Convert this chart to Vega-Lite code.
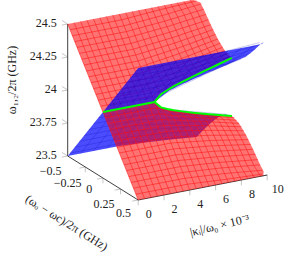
{"$schema":"https://vega.github.io/schema/vega-lite/v6.json","width":289,"height":263,"padding":0,"autosize":"none","background":"white","config":{"view":{"stroke":null}},
"data":{"values":[
{"s":"F1","i":0,"k":0,"d":0,"w":24},{"s":"F1","i":1,"k":0,"d":-0.5,"w":24.5},{"s":"F1","i":2,"k":9.7,"d":-0.5,"w":24.5},{"s":"F1","i":3,"k":10,"d":-0.45,"w":24.49},{"s":"F1","i":4,"k":10,"d":-0.4,"w":24.456},{"s":"F1","i":5,"k":10,"d":-0.3,"w":24.372},{"s":"F1","i":6,"k":10,"d":-0.2,"w":24.297},{"s":"F1","i":7,"k":10,"d":-0.1,"w":24.242},{"s":"F1","i":8,"k":10,"d":0,"w":24.22},{"s":"F1","i":9,"k":9,"d":0,"w":24.193},{"s":"F1","i":10,"k":8,"d":0,"w":24.166},{"s":"F1","i":11,"k":7,"d":0,"w":24.138},{"s":"F1","i":12,"k":6,"d":0,"w":24.107},{"s":"F1","i":13,"k":5.5,"d":0,"w":24.091},{"s":"F1","i":14,"k":5,"d":0,"w":24.072},{"s":"F1","i":15,"k":4.5,"d":0,"w":24.05},{"s":"F1","i":16,"k":4,"d":0,"w":24},
{"s":"F2","i":0,"k":0,"d":0,"w":24},{"s":"F2","i":1,"k":4,"d":0,"w":24},{"s":"F2","i":2,"k":4.5,"d":0,"w":23.95},{"s":"F2","i":3,"k":5,"d":0,"w":23.928},{"s":"F2","i":4,"k":6,"d":0,"w":23.893},{"s":"F2","i":5,"k":7,"d":0,"w":23.862},{"s":"F2","i":6,"k":8,"d":0,"w":23.834},{"s":"F2","i":7,"k":9,"d":0,"w":23.807},{"s":"F2","i":8,"k":10,"d":0,"w":23.78},{"s":"F2","i":9,"k":10,"d":-0.1,"w":23.758},{"s":"F2","i":10,"k":10,"d":-0.2,"w":23.703},{"s":"F2","i":11,"k":10,"d":-0.3,"w":23.628},{"s":"F2","i":12,"k":10,"d":-0.4,"w":23.544},{"s":"F2","i":13,"k":10,"d":-0.5,"w":23.454},{"s":"F2","i":14,"k":8,"d":-0.5,"w":23.473},{"s":"F2","i":15,"k":6,"d":-0.5,"w":23.489},{"s":"F2","i":16,"k":4,"d":-0.5,"w":23.5},{"s":"F2","i":17,"k":0,"d":-0.5,"w":23.5},
{"s":"F3","i":0,"k":0,"d":0,"w":24},{"s":"F3","i":1,"k":4,"d":0,"w":24},{"s":"F3","i":2,"k":4.5,"d":0,"w":23.95},{"s":"F3","i":3,"k":5,"d":0,"w":23.928},{"s":"F3","i":4,"k":6,"d":0,"w":23.893},{"s":"F3","i":5,"k":7,"d":0,"w":23.862},{"s":"F3","i":6,"k":8,"d":0,"w":23.834},{"s":"F3","i":7,"k":9,"d":0,"w":23.807},{"s":"F3","i":8,"k":10,"d":0,"w":23.78},{"s":"F3","i":9,"k":10,"d":0.1,"w":23.758},{"s":"F3","i":10,"k":10,"d":0.2,"w":23.703},{"s":"F3","i":11,"k":10,"d":0.3,"w":23.628},{"s":"F3","i":12,"k":10,"d":0.4,"w":23.544},{"s":"F3","i":13,"k":10,"d":0.45,"w":23.51},{"s":"F3","i":14,"k":9.7,"d":0.5,"w":23.5},{"s":"F3","i":15,"k":0,"d":0.5,"w":23.5},
{"s":"F4","i":0,"k":0,"d":0,"w":24},{"s":"F4","i":1,"k":4,"d":0,"w":24},{"s":"F4","i":2,"k":5,"d":0.03,"w":24.078},{"s":"F4","i":3,"k":6,"d":0.05,"w":24.118},{"s":"F4","i":4,"k":7,"d":0.06,"w":24.15},{"s":"F4","i":5,"k":8,"d":0.07,"w":24.18},{"s":"F4","i":6,"k":9,"d":0.085,"w":24.211},{"s":"F4","i":7,"k":10,"d":0.1,"w":24.242},{"s":"F4","i":8,"k":10,"d":0.2,"w":24.297},{"s":"F4","i":9,"k":10,"d":0.3,"w":24.372},{"s":"F4","i":10,"k":10,"d":0.4,"w":24.456},{"s":"F4","i":11,"k":10,"d":0.45,"w":24.49},{"s":"F4","i":12,"k":9.6,"d":0.5,"w":24.5},{"s":"F4","i":13,"k":0,"d":0.5,"w":24.5},
{"s":"x","l":1,"k":0,"d":-0.5,"w":23.5},{"s":"x","l":1,"k":0,"d":-0.5,"w":24.5},{"s":"x","l":2,"k":0,"d":-0.5,"w":23.5},{"s":"x","l":2,"k":0,"d":0.5,"w":23.5},{"s":"x","l":3,"k":0,"d":0.5,"w":23.5},{"s":"x","l":3,"k":10,"d":0.5,"w":23.5},
{"s":"t","l":1,"k":0,"d":-0.5,"w":23.5},{"s":"t","l":1,"k":-0.46,"d":-0.5,"w":23.5},{"s":"t","l":2,"k":0,"d":-0.5,"w":23.5},{"s":"t","l":2,"k":0,"d":-0.58,"w":23.5},
{"s":"t","l":3,"k":0,"d":-0.5,"w":23.75},{"s":"t","l":3,"k":-0.46,"d":-0.5,"w":23.75},{"s":"t","l":4,"k":0,"d":-0.5,"w":23.75},{"s":"t","l":4,"k":0,"d":-0.58,"w":23.75},
{"s":"t","l":5,"k":0,"d":-0.5,"w":24},{"s":"t","l":5,"k":-0.46,"d":-0.5,"w":24},{"s":"t","l":6,"k":0,"d":-0.5,"w":24},{"s":"t","l":6,"k":0,"d":-0.58,"w":24},
{"s":"t","l":7,"k":0,"d":-0.5,"w":24.25},{"s":"t","l":7,"k":-0.46,"d":-0.5,"w":24.25},{"s":"t","l":8,"k":0,"d":-0.5,"w":24.25},{"s":"t","l":8,"k":0,"d":-0.58,"w":24.25},
{"s":"t","l":9,"k":0,"d":-0.5,"w":24.5},{"s":"t","l":9,"k":-0.46,"d":-0.5,"w":24.5},{"s":"t","l":10,"k":0,"d":-0.5,"w":24.5},{"s":"t","l":10,"k":0,"d":-0.58,"w":24.5},
{"s":"t","l":11,"k":0,"d":-0.25,"w":23.5},{"s":"t","l":11,"k":0,"d":-0.25,"w":23.46},{"s":"t","l":12,"k":0,"d":-0.25,"w":23.5},{"s":"t","l":12,"k":-0.46,"d":-0.25,"w":23.5},
{"s":"t","l":13,"k":0,"d":0,"w":23.5},{"s":"t","l":13,"k":0,"d":0,"w":23.46},{"s":"t","l":14,"k":0,"d":0,"w":23.5},{"s":"t","l":14,"k":-0.46,"d":0,"w":23.5},
{"s":"t","l":15,"k":0,"d":0.25,"w":23.5},{"s":"t","l":15,"k":0,"d":0.25,"w":23.46},{"s":"t","l":16,"k":0,"d":0.25,"w":23.5},{"s":"t","l":16,"k":-0.46,"d":0.25,"w":23.5},
{"s":"t","l":17,"k":0,"d":0.5,"w":23.5},{"s":"t","l":17,"k":0,"d":0.5,"w":23.46},{"s":"t","l":18,"k":0,"d":0.5,"w":23.5},{"s":"t","l":18,"k":-0.46,"d":0.5,"w":23.5},
{"s":"t","l":19,"k":2,"d":0.5,"w":23.5},{"s":"t","l":19,"k":2,"d":0.5,"w":23.46},{"s":"t","l":20,"k":4,"d":0.5,"w":23.5},{"s":"t","l":20,"k":4,"d":0.5,"w":23.46},{"s":"t","l":21,"k":6,"d":0.5,"w":23.5},{"s":"t","l":21,"k":6,"d":0.5,"w":23.46},{"s":"t","l":22,"k":8,"d":0.5,"w":23.5},{"s":"t","l":22,"k":8,"d":0.5,"w":23.46},{"s":"t","l":23,"k":10,"d":0.5,"w":23.5},{"s":"t","l":23,"k":10,"d":0.5,"w":23.46},{"s":"t","l":24,"k":10,"d":0.5,"w":23.5},{"s":"t","l":24,"k":9.54,"d":0.5,"w":23.5},
{"s":"M1","l":0,"k":0,"d":0,"w":24},{"s":"M1","l":0,"k":0,"d":-0.5,"w":24.5},{"s":"M1","l":5,"k":0.5,"d":0,"w":24},{"s":"M1","l":5,"k":0.5,"d":-0.5,"w":24.5},{"s":"M1","l":10,"k":1,"d":0,"w":24},{"s":"M1","l":10,"k":1,"d":-0.5,"w":24.5},{"s":"M1","l":15,"k":1.5,"d":0,"w":24},{"s":"M1","l":15,"k":1.5,"d":-0.5,"w":24.5},{"s":"M1","l":20,"k":2,"d":0,"w":24},{"s":"M1","l":20,"k":2,"d":-0.5,"w":24.5},{"s":"M1","l":25,"k":2.5,"d":0,"w":24},{"s":"M1","l":25,"k":2.5,"d":-0.5,"w":24.5},{"s":"M1","l":30,"k":3,"d":0,"w":24},{"s":"M1","l":30,"k":3,"d":-0.5,"w":24.5},{"s":"M1","l":35,"k":3.5,"d":0,"w":24},{"s":"M1","l":35,"k":3.5,"d":-0.5,"w":24.5},{"s":"M1","l":40,"k":4,"d":0,"w":24},{"s":"M1","l":40,"k":4,"d":-0.5,"w":24.5},
{"s":"M1","l":45,"k":4.5,"d":0,"w":24.05},{"s":"M1","l":45,"k":4.5,"d":-0.1,"w":24.112},{"s":"M1","l":45,"k":4.5,"d":-0.2,"w":24.206},{"s":"M1","l":45,"k":4.5,"d":-0.5,"w":24.5},
{"s":"M1","l":50,"k":5,"d":0,"w":24.072},{"s":"M1","l":50,"k":5,"d":-0.1,"w":24.123},{"s":"M1","l":50,"k":5,"d":-0.2,"w":24.213},{"s":"M1","l":50,"k":5,"d":-0.5,"w":24.5},
{"s":"M1","l":55,"k":5.5,"d":0,"w":24.091},{"s":"M1","l":55,"k":5.5,"d":-0.1,"w":24.135},{"s":"M1","l":55,"k":5.5,"d":-0.2,"w":24.22},{"s":"M1","l":55,"k":5.5,"d":-0.5,"w":24.5},
{"s":"M1","l":60,"k":6,"d":0,"w":24.107},{"s":"M1","l":60,"k":6,"d":-0.1,"w":24.147},{"s":"M1","l":60,"k":6,"d":-0.2,"w":24.227},{"s":"M1","l":60,"k":6,"d":-0.3,"w":24.319},{"s":"M1","l":60,"k":6,"d":-0.5,"w":24.5},
{"s":"M1","l":65,"k":6.5,"d":0,"w":24.123},{"s":"M1","l":65,"k":6.5,"d":-0.1,"w":24.158},{"s":"M1","l":65,"k":6.5,"d":-0.2,"w":24.235},{"s":"M1","l":65,"k":6.5,"d":-0.3,"w":24.324},{"s":"M1","l":65,"k":6.5,"d":-0.5,"w":24.5},
{"s":"M1","l":70,"k":7,"d":0,"w":24.138},{"s":"M1","l":70,"k":7,"d":-0.1,"w":24.17},{"s":"M1","l":70,"k":7,"d":-0.2,"w":24.243},{"s":"M1","l":70,"k":7,"d":-0.3,"w":24.33},{"s":"M1","l":70,"k":7,"d":-0.5,"w":24.5},
{"s":"M1","l":75,"k":7.5,"d":0,"w":24.152},{"s":"M1","l":75,"k":7.5,"d":-0.1,"w":24.182},{"s":"M1","l":75,"k":7.5,"d":-0.2,"w":24.251},{"s":"M1","l":75,"k":7.5,"d":-0.3,"w":24.336},{"s":"M1","l":75,"k":7.5,"d":-0.5,"w":24.5},
{"s":"M1","l":80,"k":8,"d":0,"w":24.166},{"s":"M1","l":80,"k":8,"d":-0.1,"w":24.194},{"s":"M1","l":80,"k":8,"d":-0.2,"w":24.26},{"s":"M1","l":80,"k":8,"d":-0.3,"w":24.343},{"s":"M1","l":80,"k":8,"d":-0.4,"w":24.433},{"s":"M1","l":80,"k":8,"d":-0.5,"w":24.5},
{"s":"M1","l":85,"k":8.5,"d":0,"w":24.18},{"s":"M1","l":85,"k":8.5,"d":-0.1,"w":24.206},{"s":"M1","l":85,"k":8.5,"d":-0.2,"w":24.269},{"s":"M1","l":85,"k":8.5,"d":-0.3,"w":24.35},{"s":"M1","l":85,"k":8.5,"d":-0.4,"w":24.439},{"s":"M1","l":85,"k":8.5,"d":-0.5,"w":24.5},
{"s":"M1","l":90,"k":9,"d":0,"w":24.193},{"s":"M1","l":90,"k":9,"d":-0.1,"w":24.218},{"s":"M1","l":90,"k":9,"d":-0.2,"w":24.278},{"s":"M1","l":90,"k":9,"d":-0.3,"w":24.357},{"s":"M1","l":90,"k":9,"d":-0.4,"w":24.444},{"s":"M1","l":90,"k":9,"d":-0.5,"w":24.5},
{"s":"M1","l":95,"k":9.5,"d":0,"w":24.207},{"s":"M1","l":95,"k":9.5,"d":-0.1,"w":24.23},{"s":"M1","l":95,"k":9.5,"d":-0.2,"w":24.288},{"s":"M1","l":95,"k":9.5,"d":-0.3,"w":24.364},{"s":"M1","l":95,"k":9.5,"d":-0.4,"w":24.45},{"s":"M1","l":95,"k":9.5,"d":-0.5,"w":24.5},
{"s":"M1","l":101,"k":0,"d":-0.033,"w":24.033},{"s":"M1","l":101,"k":4,"d":-0.033,"w":24.033},{"s":"M1","l":101,"k":5,"d":-0.033,"w":24.079},{"s":"M1","l":101,"k":6,"d":-0.033,"w":24.112},{"s":"M1","l":101,"k":8,"d":-0.033,"w":24.17},{"s":"M1","l":101,"k":10,"d":-0.033,"w":24.222},
{"s":"M1","l":102,"k":0,"d":-0.067,"w":24.067},{"s":"M1","l":102,"k":4,"d":-0.067,"w":24.067},{"s":"M1","l":102,"k":5,"d":-0.067,"w":24.098},{"s":"M1","l":102,"k":6,"d":-0.067,"w":24.126},{"s":"M1","l":102,"k":8,"d":-0.067,"w":24.179},{"s":"M1","l":102,"k":10,"d":-0.067,"w":24.23},
{"s":"M1","l":103,"k":0,"d":-0.1,"w":24.1},{"s":"M1","l":103,"k":4,"d":-0.1,"w":24.1},{"s":"M1","l":103,"k":5,"d":-0.1,"w":24.123},{"s":"M1","l":103,"k":6,"d":-0.1,"w":24.147},{"s":"M1","l":103,"k":8,"d":-0.1,"w":24.194},{"s":"M1","l":103,"k":10,"d":-0.1,"w":24.242},
{"s":"M1","l":104,"k":0,"d":-0.133,"w":24.133},{"s":"M1","l":104,"k":4,"d":-0.133,"w":24.133},{"s":"M1","l":104,"k":5,"d":-0.133,"w":24.152},{"s":"M1","l":104,"k":6,"d":-0.133,"w":24.171},{"s":"M1","l":104,"k":8,"d":-0.133,"w":24.213},{"s":"M1","l":104,"k":10,"d":-0.133,"w":24.257},
{"s":"M1","l":105,"k":0,"d":-0.167,"w":24.167},{"s":"M1","l":105,"k":4,"d":-0.167,"w":24.167},{"s":"M1","l":105,"k":5,"d":-0.167,"w":24.182},{"s":"M1","l":105,"k":6,"d":-0.167,"w":24.198},{"s":"M1","l":105,"k":8,"d":-0.167,"w":24.235},{"s":"M1","l":105,"k":10,"d":-0.167,"w":24.276},
{"s":"M1","l":106,"k":0,"d":-0.2,"w":24.2},{"s":"M1","l":106,"k":4,"d":-0.2,"w":24.2},{"s":"M1","l":106,"k":7,"d":-0.2,"w":24.243},{"s":"M1","l":106,"k":10,"d":-0.2,"w":24.297},
{"s":"M1","l":107,"k":0,"d":-0.233,"w":24.233},{"s":"M1","l":107,"k":4,"d":-0.233,"w":24.233},{"s":"M1","l":107,"k":7,"d":-0.233,"w":24.271},{"s":"M1","l":107,"k":10,"d":-0.233,"w":24.321},
{"s":"M1","l":108,"k":0,"d":-0.267,"w":24.267},{"s":"M1","l":108,"k":4,"d":-0.267,"w":24.267},{"s":"M1","l":108,"k":7,"d":-0.267,"w":24.3},{"s":"M1","l":108,"k":10,"d":-0.267,"w":24.346},
{"s":"M1","l":109,"k":0,"d":-0.3,"w":24.3},{"s":"M1","l":109,"k":4,"d":-0.3,"w":24.3},{"s":"M1","l":109,"k":7,"d":-0.3,"w":24.33},{"s":"M1","l":109,"k":10,"d":-0.3,"w":24.372},
{"s":"M1","l":110,"k":0,"d":-0.333,"w":24.333},{"s":"M1","l":110,"k":4,"d":-0.333,"w":24.333},{"s":"M1","l":110,"k":7,"d":-0.333,"w":24.361},{"s":"M1","l":110,"k":10,"d":-0.333,"w":24.399},
{"s":"M1","l":111,"k":0,"d":-0.367,"w":24.367},{"s":"M1","l":111,"k":4,"d":-0.367,"w":24.367},{"s":"M1","l":111,"k":7,"d":-0.367,"w":24.392},{"s":"M1","l":111,"k":10,"d":-0.367,"w":24.428},
{"s":"M1","l":112,"k":0,"d":-0.4,"w":24.4},{"s":"M1","l":112,"k":4,"d":-0.4,"w":24.4},{"s":"M1","l":112,"k":7,"d":-0.4,"w":24.423},{"s":"M1","l":112,"k":10,"d":-0.4,"w":24.456},
{"s":"M1","l":113,"k":0,"d":-0.433,"w":24.433},{"s":"M1","l":113,"k":4,"d":-0.433,"w":24.433},{"s":"M1","l":113,"k":7,"d":-0.433,"w":24.455},{"s":"M1","l":113,"k":10,"d":-0.433,"w":24.486},
{"s":"M1","l":114,"k":0,"d":-0.467,"w":24.467},{"s":"M1","l":114,"k":4,"d":-0.467,"w":24.467},{"s":"M1","l":114,"k":7,"d":-0.467,"w":24.487},{"s":"M1","l":114,"k":9.8,"d":-0.467,"w":24.5},
{"s":"M3","l":0,"k":0,"d":0,"w":24},{"s":"M3","l":0,"k":0,"d":0.5,"w":23.5},{"s":"M3","l":5,"k":0.5,"d":0,"w":24},{"s":"M3","l":5,"k":0.5,"d":0.5,"w":23.5},{"s":"M3","l":10,"k":1,"d":0,"w":24},{"s":"M3","l":10,"k":1,"d":0.5,"w":23.5},{"s":"M3","l":15,"k":1.5,"d":0,"w":24},{"s":"M3","l":15,"k":1.5,"d":0.5,"w":23.5},{"s":"M3","l":20,"k":2,"d":0,"w":24},{"s":"M3","l":20,"k":2,"d":0.5,"w":23.5},{"s":"M3","l":25,"k":2.5,"d":0,"w":24},{"s":"M3","l":25,"k":2.5,"d":0.5,"w":23.5},{"s":"M3","l":30,"k":3,"d":0,"w":24},{"s":"M3","l":30,"k":3,"d":0.5,"w":23.5},{"s":"M3","l":35,"k":3.5,"d":0,"w":24},{"s":"M3","l":35,"k":3.5,"d":0.5,"w":23.5},{"s":"M3","l":40,"k":4,"d":0,"w":24},{"s":"M3","l":40,"k":4,"d":0.5,"w":23.5},
{"s":"M3","l":45,"k":4.5,"d":0,"w":23.95},{"s":"M3","l":45,"k":4.5,"d":0.1,"w":23.888},{"s":"M3","l":45,"k":4.5,"d":0.2,"w":23.794},{"s":"M3","l":45,"k":4.5,"d":0.5,"w":23.5},
{"s":"M3","l":50,"k":5,"d":0,"w":23.928},{"s":"M3","l":50,"k":5,"d":0.1,"w":23.877},{"s":"M3","l":50,"k":5,"d":0.2,"w":23.787},{"s":"M3","l":50,"k":5,"d":0.5,"w":23.5},
{"s":"M3","l":55,"k":5.5,"d":0,"w":23.909},{"s":"M3","l":55,"k":5.5,"d":0.1,"w":23.865},{"s":"M3","l":55,"k":5.5,"d":0.2,"w":23.78},{"s":"M3","l":55,"k":5.5,"d":0.5,"w":23.5},
{"s":"M3","l":60,"k":6,"d":0,"w":23.893},{"s":"M3","l":60,"k":6,"d":0.1,"w":23.853},{"s":"M3","l":60,"k":6,"d":0.2,"w":23.773},{"s":"M3","l":60,"k":6,"d":0.3,"w":23.681},{"s":"M3","l":60,"k":6,"d":0.5,"w":23.5},
{"s":"M3","l":65,"k":6.5,"d":0,"w":23.877},{"s":"M3","l":65,"k":6.5,"d":0.1,"w":23.842},{"s":"M3","l":65,"k":6.5,"d":0.2,"w":23.765},{"s":"M3","l":65,"k":6.5,"d":0.3,"w":23.676},{"s":"M3","l":65,"k":6.5,"d":0.5,"w":23.5},
{"s":"M3","l":70,"k":7,"d":0,"w":23.862},{"s":"M3","l":70,"k":7,"d":0.1,"w":23.83},{"s":"M3","l":70,"k":7,"d":0.2,"w":23.757},{"s":"M3","l":70,"k":7,"d":0.3,"w":23.67},{"s":"M3","l":70,"k":7,"d":0.5,"w":23.5},
{"s":"M3","l":75,"k":7.5,"d":0,"w":23.848},{"s":"M3","l":75,"k":7.5,"d":0.1,"w":23.818},{"s":"M3","l":75,"k":7.5,"d":0.2,"w":23.749},{"s":"M3","l":75,"k":7.5,"d":0.3,"w":23.664},{"s":"M3","l":75,"k":7.5,"d":0.5,"w":23.5},
{"s":"M3","l":80,"k":8,"d":0,"w":23.834},{"s":"M3","l":80,"k":8,"d":0.1,"w":23.806},{"s":"M3","l":80,"k":8,"d":0.2,"w":23.74},{"s":"M3","l":80,"k":8,"d":0.3,"w":23.657},{"s":"M3","l":80,"k":8,"d":0.4,"w":23.567},{"s":"M3","l":80,"k":8,"d":0.5,"w":23.5},
{"s":"M3","l":85,"k":8.5,"d":0,"w":23.82},{"s":"M3","l":85,"k":8.5,"d":0.1,"w":23.794},{"s":"M3","l":85,"k":8.5,"d":0.2,"w":23.731},{"s":"M3","l":85,"k":8.5,"d":0.3,"w":23.65},{"s":"M3","l":85,"k":8.5,"d":0.4,"w":23.561},{"s":"M3","l":85,"k":8.5,"d":0.5,"w":23.5},
{"s":"M3","l":90,"k":9,"d":0,"w":23.807},{"s":"M3","l":90,"k":9,"d":0.1,"w":23.782},{"s":"M3","l":90,"k":9,"d":0.2,"w":23.722},{"s":"M3","l":90,"k":9,"d":0.3,"w":23.643},{"s":"M3","l":90,"k":9,"d":0.4,"w":23.556},{"s":"M3","l":90,"k":9,"d":0.5,"w":23.5},
{"s":"M3","l":95,"k":9.5,"d":0,"w":23.793},{"s":"M3","l":95,"k":9.5,"d":0.1,"w":23.77},{"s":"M3","l":95,"k":9.5,"d":0.2,"w":23.712},{"s":"M3","l":95,"k":9.5,"d":0.3,"w":23.636},{"s":"M3","l":95,"k":9.5,"d":0.4,"w":23.55},{"s":"M3","l":95,"k":9.5,"d":0.5,"w":23.5},
{"s":"M3","l":101,"k":0,"d":0.033,"w":23.967},{"s":"M3","l":101,"k":4,"d":0.033,"w":23.967},{"s":"M3","l":101,"k":5,"d":0.033,"w":23.921},{"s":"M3","l":101,"k":6,"d":0.033,"w":23.888},{"s":"M3","l":101,"k":8,"d":0.033,"w":23.83},{"s":"M3","l":101,"k":10,"d":0.033,"w":23.778},
{"s":"M3","l":102,"k":0,"d":0.067,"w":23.933},{"s":"M3","l":102,"k":4,"d":0.067,"w":23.933},{"s":"M3","l":102,"k":5,"d":0.067,"w":23.902},{"s":"M3","l":102,"k":6,"d":0.067,"w":23.874},{"s":"M3","l":102,"k":8,"d":0.067,"w":23.821},{"s":"M3","l":102,"k":10,"d":0.067,"w":23.77},
{"s":"M3","l":103,"k":0,"d":0.1,"w":23.9},{"s":"M3","l":103,"k":4,"d":0.1,"w":23.9},{"s":"M3","l":103,"k":5,"d":0.1,"w":23.877},{"s":"M3","l":103,"k":6,"d":0.1,"w":23.853},{"s":"M3","l":103,"k":8,"d":0.1,"w":23.806},{"s":"M3","l":103,"k":10,"d":0.1,"w":23.758},
{"s":"M3","l":104,"k":0,"d":0.133,"w":23.867},{"s":"M3","l":104,"k":4,"d":0.133,"w":23.867},{"s":"M3","l":104,"k":5,"d":0.133,"w":23.848},{"s":"M3","l":104,"k":6,"d":0.133,"w":23.829},{"s":"M3","l":104,"k":8,"d":0.133,"w":23.787},{"s":"M3","l":104,"k":10,"d":0.133,"w":23.743},
{"s":"M3","l":105,"k":0,"d":0.167,"w":23.833},{"s":"M3","l":105,"k":4,"d":0.167,"w":23.833},{"s":"M3","l":105,"k":5,"d":0.167,"w":23.818},{"s":"M3","l":105,"k":6,"d":0.167,"w":23.802},{"s":"M3","l":105,"k":8,"d":0.167,"w":23.765},{"s":"M3","l":105,"k":10,"d":0.167,"w":23.724},
{"s":"M3","l":106,"k":0,"d":0.2,"w":23.8},{"s":"M3","l":106,"k":4,"d":0.2,"w":23.8},{"s":"M3","l":106,"k":7,"d":0.2,"w":23.757},{"s":"M3","l":106,"k":10,"d":0.2,"w":23.703},
{"s":"M3","l":107,"k":0,"d":0.233,"w":23.767},{"s":"M3","l":107,"k":4,"d":0.233,"w":23.767},{"s":"M3","l":107,"k":7,"d":0.233,"w":23.729},{"s":"M3","l":107,"k":10,"d":0.233,"w":23.679},
{"s":"M3","l":108,"k":0,"d":0.267,"w":23.733},{"s":"M3","l":108,"k":4,"d":0.267,"w":23.733},{"s":"M3","l":108,"k":7,"d":0.267,"w":23.7},{"s":"M3","l":108,"k":10,"d":0.267,"w":23.654},
{"s":"M3","l":109,"k":0,"d":0.3,"w":23.7},{"s":"M3","l":109,"k":4,"d":0.3,"w":23.7},{"s":"M3","l":109,"k":7,"d":0.3,"w":23.67},{"s":"M3","l":109,"k":10,"d":0.3,"w":23.628},
{"s":"M3","l":110,"k":0,"d":0.333,"w":23.667},{"s":"M3","l":110,"k":4,"d":0.333,"w":23.667},{"s":"M3","l":110,"k":7,"d":0.333,"w":23.639},{"s":"M3","l":110,"k":10,"d":0.333,"w":23.601},
{"s":"M3","l":111,"k":0,"d":0.367,"w":23.633},{"s":"M3","l":111,"k":4,"d":0.367,"w":23.633},{"s":"M3","l":111,"k":7,"d":0.367,"w":23.608},{"s":"M3","l":111,"k":10,"d":0.367,"w":23.572},
{"s":"M3","l":112,"k":0,"d":0.4,"w":23.6},{"s":"M3","l":112,"k":4,"d":0.4,"w":23.6},{"s":"M3","l":112,"k":7,"d":0.4,"w":23.577},{"s":"M3","l":112,"k":10,"d":0.4,"w":23.544},
{"s":"M3","l":113,"k":0,"d":0.433,"w":23.567},{"s":"M3","l":113,"k":4,"d":0.433,"w":23.567},{"s":"M3","l":113,"k":7,"d":0.433,"w":23.545},{"s":"M3","l":113,"k":10,"d":0.433,"w":23.514},
{"s":"M3","l":114,"k":0,"d":0.467,"w":23.533},{"s":"M3","l":114,"k":4,"d":0.467,"w":23.533},{"s":"M3","l":114,"k":7,"d":0.467,"w":23.513},{"s":"M3","l":114,"k":9.8,"d":0.467,"w":23.5},
{"s":"M2","l":10,"k":1,"d":0,"w":24},{"s":"M2","l":10,"k":1,"d":-0.5,"w":23.5},{"s":"M2","l":20,"k":2,"d":0,"w":24},{"s":"M2","l":20,"k":2,"d":-0.5,"w":23.5},{"s":"M2","l":30,"k":3,"d":0,"w":24},{"s":"M2","l":30,"k":3,"d":-0.5,"w":23.5},{"s":"M2","l":40,"k":4,"d":0,"w":24},{"s":"M2","l":40,"k":4,"d":-0.5,"w":23.5},
{"s":"M2","l":50,"k":5,"d":0,"w":23.928},{"s":"M2","l":50,"k":5,"d":-0.1,"w":23.877},{"s":"M2","l":50,"k":5,"d":-0.5,"w":23.495},{"s":"M2","l":60,"k":6,"d":0,"w":23.893},{"s":"M2","l":60,"k":6,"d":-0.1,"w":23.853},{"s":"M2","l":60,"k":6,"d":-0.5,"w":23.489},{"s":"M2","l":70,"k":7,"d":0,"w":23.862},{"s":"M2","l":70,"k":7,"d":-0.1,"w":23.83},{"s":"M2","l":70,"k":7,"d":-0.5,"w":23.481},{"s":"M2","l":80,"k":8,"d":0,"w":23.834},{"s":"M2","l":80,"k":8,"d":-0.1,"w":23.806},{"s":"M2","l":80,"k":8,"d":-0.5,"w":23.473},{"s":"M2","l":90,"k":9,"d":0,"w":23.807},{"s":"M2","l":90,"k":9,"d":-0.1,"w":23.782},{"s":"M2","l":90,"k":9,"d":-0.5,"w":23.464},
{"s":"M2","l":102,"k":0,"d":-0.067,"w":23.933},{"s":"M2","l":102,"k":4,"d":-0.067,"w":23.933},{"s":"M2","l":102,"k":10,"d":-0.067,"w":23.77},{"s":"M2","l":104,"k":0,"d":-0.133,"w":23.867},{"s":"M2","l":104,"k":4,"d":-0.133,"w":23.867},{"s":"M2","l":104,"k":10,"d":-0.133,"w":23.743},{"s":"M2","l":106,"k":0,"d":-0.2,"w":23.8},{"s":"M2","l":106,"k":4,"d":-0.2,"w":23.8},{"s":"M2","l":106,"k":10,"d":-0.2,"w":23.703},{"s":"M2","l":108,"k":0,"d":-0.267,"w":23.733},{"s":"M2","l":108,"k":4,"d":-0.267,"w":23.733},{"s":"M2","l":108,"k":10,"d":-0.267,"w":23.654},{"s":"M2","l":110,"k":0,"d":-0.333,"w":23.667},{"s":"M2","l":110,"k":4,"d":-0.333,"w":23.667},{"s":"M2","l":110,"k":10,"d":-0.333,"w":23.601},{"s":"M2","l":112,"k":0,"d":-0.4,"w":23.6},{"s":"M2","l":112,"k":4,"d":-0.4,"w":23.6},{"s":"M2","l":112,"k":10,"d":-0.4,"w":23.544},{"s":"M2","l":114,"k":0,"d":-0.467,"w":23.533},{"s":"M2","l":114,"k":4,"d":-0.467,"w":23.533},{"s":"M2","l":114,"k":10,"d":-0.467,"w":23.48},
{"s":"M4","l":10,"k":1,"d":0,"w":24},{"s":"M4","l":10,"k":1,"d":0.5,"w":24.5},{"s":"M4","l":20,"k":2,"d":0,"w":24},{"s":"M4","l":20,"k":2,"d":0.5,"w":24.5},{"s":"M4","l":30,"k":3,"d":0,"w":24},{"s":"M4","l":30,"k":3,"d":0.5,"w":24.5},{"s":"M4","l":40,"k":4,"d":0,"w":24},{"s":"M4","l":40,"k":4,"d":0.5,"w":24.5},
{"s":"M4","l":50,"k":5,"d":0,"w":24.072},{"s":"M4","l":50,"k":5,"d":0.1,"w":24.123},{"s":"M4","l":50,"k":5,"d":0.5,"w":24.5},{"s":"M4","l":60,"k":6,"d":0,"w":24.107},{"s":"M4","l":60,"k":6,"d":0.1,"w":24.147},{"s":"M4","l":60,"k":6,"d":0.5,"w":24.5},{"s":"M4","l":70,"k":7,"d":0,"w":24.138},{"s":"M4","l":70,"k":7,"d":0.1,"w":24.17},{"s":"M4","l":70,"k":7,"d":0.5,"w":24.5},{"s":"M4","l":80,"k":8,"d":0,"w":24.166},{"s":"M4","l":80,"k":8,"d":0.1,"w":24.194},{"s":"M4","l":80,"k":8,"d":0.5,"w":24.5},{"s":"M4","l":90,"k":9,"d":0,"w":24.193},{"s":"M4","l":90,"k":9,"d":0.1,"w":24.218},{"s":"M4","l":90,"k":9,"d":0.5,"w":24.5},
{"s":"M4","l":102,"k":0,"d":0.067,"w":24.067},{"s":"M4","l":102,"k":4,"d":0.067,"w":24.067},{"s":"M4","l":102,"k":10,"d":0.067,"w":24.23},{"s":"M4","l":104,"k":0,"d":0.133,"w":24.133},{"s":"M4","l":104,"k":4,"d":0.133,"w":24.133},{"s":"M4","l":104,"k":10,"d":0.133,"w":24.257},{"s":"M4","l":106,"k":0,"d":0.2,"w":24.2},{"s":"M4","l":106,"k":4,"d":0.2,"w":24.2},{"s":"M4","l":106,"k":10,"d":0.2,"w":24.297},{"s":"M4","l":108,"k":0,"d":0.267,"w":24.267},{"s":"M4","l":108,"k":4,"d":0.267,"w":24.267},{"s":"M4","l":108,"k":10,"d":0.267,"w":24.346},{"s":"M4","l":110,"k":0,"d":0.333,"w":24.333},{"s":"M4","l":110,"k":4,"d":0.333,"w":24.333},{"s":"M4","l":110,"k":10,"d":0.333,"w":24.399},{"s":"M4","l":112,"k":0,"d":0.4,"w":24.4},{"s":"M4","l":112,"k":4,"d":0.4,"w":24.4},{"s":"M4","l":112,"k":10,"d":0.4,"w":24.456},{"s":"M4","l":114,"k":0,"d":0.467,"w":24.467},{"s":"M4","l":114,"k":4,"d":0.467,"w":24.467},{"s":"M4","l":114,"k":9.6,"d":0.467,"w":24.5},
{"s":"G","l":1,"k":0,"d":0,"w":24},{"s":"G","l":1,"k":4,"d":0,"w":24},{"s":"G","l":1,"k":4.5,"d":0,"w":24.05},{"s":"G","l":1,"k":5,"d":0,"w":24.072},{"s":"G","l":1,"k":5.5,"d":0,"w":24.091},{"s":"G","l":1,"k":6,"d":0,"w":24.107},{"s":"G","l":1,"k":7,"d":0,"w":24.138},{"s":"G","l":1,"k":8,"d":0,"w":24.166},{"s":"G","l":1,"k":9,"d":0,"w":24.193},{"s":"G","l":1,"k":10,"d":0,"w":24.22},
{"s":"G","l":2,"k":4,"d":0,"w":24},{"s":"G","l":2,"k":4.5,"d":0,"w":23.95},{"s":"G","l":2,"k":5,"d":0,"w":23.928},{"s":"G","l":2,"k":5.5,"d":0,"w":23.909},{"s":"G","l":2,"k":6,"d":0,"w":23.893},{"s":"G","l":2,"k":7,"d":0,"w":23.862},{"s":"G","l":2,"k":8,"d":0,"w":23.834},{"s":"G","l":2,"k":9,"d":0,"w":23.807},{"s":"G","l":2,"k":10,"d":0,"w":23.78},
{"s":"Lw","t":"23.5","k":0,"d":-0.5,"w":23.5},{"s":"Lw","t":"23.75","k":0,"d":-0.5,"w":23.75},{"s":"Lw","t":"24","k":0,"d":-0.5,"w":24},{"s":"Lw","t":"24.25","k":0,"d":-0.5,"w":24.25},{"s":"Lw","t":"24.5","k":0,"d":-0.5,"w":24.5},
{"s":"Lk","t":"0","k":0,"d":0.5,"w":23.5},{"s":"Lk","t":"2","k":2,"d":0.5,"w":23.5},{"s":"Lk","t":"4","k":4,"d":0.5,"w":23.5},{"s":"Lk","t":"6","k":6,"d":0.5,"w":23.5},{"s":"Lk","t":"8","k":8,"d":0.5,"w":23.5},{"s":"Lk","t":"10","k":10,"d":0.5,"w":23.5},
{"s":"L1","t":"−0.5","k":0,"d":-0.5,"w":23.5},{"s":"L2","t":"−0.25","k":0,"d":-0.25,"w":23.5},{"s":"L3","t":"0","k":0,"d":0,"w":23.5},{"s":"L4","t":"0.25","k":0,"d":0.25,"w":23.5},{"s":"L5","t":"0.5","k":0,"d":0.5,"w":23.5},
{"s":"T1","t":"ω₁,₂/2π (GHz)","k":0,"d":-0.5,"w":24},{"s":"T2","t":"(ωₒ − ωc)/2π (GHz)","k":0,"d":0,"w":23.5},{"s":"T3","t":"|κᵢ|/ω₀ × 10⁻³","k":5,"d":0.5,"w":23.5}
]},
"transform":[{"calculate":"67.7+12.9*datum.k+70.5*(datum.d+0.5)","as":"h"},{"calculate":"156-2.5*datum.k+44*(datum.d+0.5)-132*(datum.w-23.5)","as":"v"}],
"encoding":{"x":{"field":"h","type":"quantitative","scale":{"domain":[0,289],"nice":false,"zero":false},"axis":null},"y":{"field":"v","type":"quantitative","scale":{"domain":[263,0],"nice":false,"zero":false},"axis":null}},
"layer":[
{"transform":[{"filter":"datum.s=='t'"}],"mark":{"type":"line","color":"#b8b8b8","strokeWidth":0.8},"encoding":{"detail":{"field":"l","type":"nominal"}}},
{"transform":[{"filter":"datum.s=='x'"}],"mark":{"type":"line","color":"#404040","strokeWidth":1},"encoding":{"detail":{"field":"l","type":"nominal"}}},
{"transform":[{"filter":"datum.s=='F1'"}],"mark":{"type":"line","fill":"#ff0000","fillOpacity":0.55,"stroke":"#ff0000","strokeWidth":0},"encoding":{"order":{"field":"i"}}},
{"transform":[{"filter":"datum.s=='M1'"}],"mark":{"type":"line","color":"#ff1010","opacity":0.65,"strokeWidth":0.8},"encoding":{"detail":{"field":"l","type":"nominal"}}},
{"transform":[{"filter":"datum.s=='F2'"}],"mark":{"type":"line","fill":"#0000ff","fillOpacity":0.7,"stroke":"#0000ff","strokeWidth":0},"encoding":{"order":{"field":"i"}}},
{"transform":[{"filter":"datum.s=='M2'"}],"mark":{"type":"line","color":"#0000b0","opacity":0.35,"strokeWidth":0.6},"encoding":{"detail":{"field":"l","type":"nominal"}}},
{"transform":[{"filter":"datum.s=='F3'"}],"mark":{"type":"line","fill":"#ff0000","fillOpacity":0.55,"stroke":"#ff0000","strokeWidth":0},"encoding":{"order":{"field":"i"}}},
{"transform":[{"filter":"datum.s=='M3'"}],"mark":{"type":"line","color":"#ff1010","opacity":0.65,"strokeWidth":0.8},"encoding":{"detail":{"field":"l","type":"nominal"}}},
{"transform":[{"filter":"datum.s=='F4'"}],"mark":{"type":"line","fill":"#0000ff","fillOpacity":0.7,"stroke":"#0000ff","strokeWidth":0},"encoding":{"order":{"field":"i"}}},
{"transform":[{"filter":"datum.s=='M4'"}],"mark":{"type":"line","color":"#0000b0","opacity":0.35,"strokeWidth":0.6},"encoding":{"detail":{"field":"l","type":"nominal"}}},
{"transform":[{"filter":"datum.s=='G'"}],"mark":{"type":"line","color":"#00ff00","strokeWidth":2},"encoding":{"detail":{"field":"l","type":"nominal"}}},
{"transform":[{"filter":"datum.s=='Lw'"}],"mark":{"type":"text","font":"Liberation Serif","fontSize":12,"color":"#222222","align":"right","baseline":"middle","dx":-11,"dy":-1},"encoding":{"text":{"field":"t"}}},
{"transform":[{"filter":"datum.s=='Lk'"}],"mark":{"type":"text","font":"Liberation Serif","fontSize":12,"color":"#222222","align":"center","baseline":"middle","dx":10.5,"dy":13.6},"encoding":{"text":{"field":"t"}}},
{"transform":[{"filter":"datum.s=='L1'"}],"mark":{"type":"text","font":"Liberation Serif","fontSize":12,"color":"#222222","align":"center","baseline":"middle","dx":-17,"dy":15.3},"encoding":{"text":{"field":"t"}}},
{"transform":[{"filter":"datum.s=='L2'"}],"mark":{"type":"text","font":"Liberation Serif","fontSize":12,"color":"#222222","align":"center","baseline":"middle","dx":-17.6,"dy":16},"encoding":{"text":{"field":"t"}}},
{"transform":[{"filter":"datum.s=='L3'"}],"mark":{"type":"text","font":"Liberation Serif","fontSize":12,"color":"#222222","align":"center","baseline":"middle","dx":-13.7,"dy":10.7},"encoding":{"text":{"field":"t"}}},
{"transform":[{"filter":"datum.s=='L4'"}],"mark":{"type":"text","font":"Liberation Serif","fontSize":12,"color":"#222222","align":"center","baseline":"middle","dx":-16.6,"dy":14.7},"encoding":{"text":{"field":"t"}}},
{"transform":[{"filter":"datum.s=='L5'"}],"mark":{"type":"text","font":"Liberation Serif","fontSize":12,"color":"#222222","align":"center","baseline":"middle","dx":-14.8,"dy":13},"encoding":{"text":{"field":"t"}}},
{"transform":[{"filter":"datum.s=='T1'"}],"mark":{"type":"text","font":"Liberation Serif","fontSize":12,"color":"#222222","align":"center","baseline":"middle","angle":-90,"dx":10,"dy":-55.7},"encoding":{"text":{"field":"t"}}},
{"transform":[{"filter":"datum.s=='T2'"}],"mark":{"type":"text","font":"Liberation Serif","fontSize":12,"color":"#222222","align":"center","baseline":"middle","angle":32,"dx":-7.1,"dy":57.1},"encoding":{"text":{"field":"t"}}},
{"transform":[{"filter":"datum.s=='T3'"}],"mark":{"type":"text","font":"Liberation Serif","fontSize":12,"color":"#222222","align":"center","baseline":"middle","angle":-13.4,"dx":7.6,"dy":40.7},"encoding":{"text":{"field":"t"}}}
]}
